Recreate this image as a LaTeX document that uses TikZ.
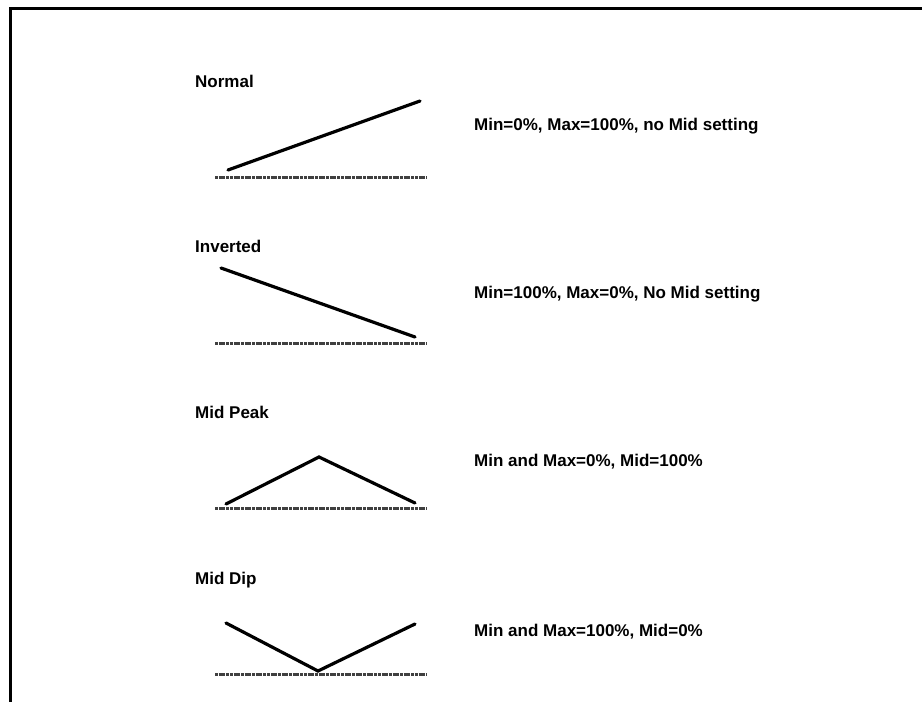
\documentclass[tikz,border=0pt]{standalone}
\usepackage{fontspec}
\setmainfont{Liberation Sans}

\tikzset{
  label/.style={anchor=base west, inner sep=0pt, font=\bfseries\fontsize{17}{20}\selectfont},
  curve/.style={line width=3.2pt, line cap=round},
  ground/.style={line width=3pt, black!75, dash pattern=on 3pt off 0.7pt}
}

\begin{document}
\begin{tikzpicture}[x=1pt,y=-1pt]
\useasboundingbox (0,0) rectangle (922,702);

% Frame
\draw[line width=3pt] (10,702) -- (10,8) -- (922,8);

% Ground lines
\def\xl{215}
\def\xr{427}
\foreach \y in {177,343,508,674}
  \draw[ground] (\xl,\y) -- (\xr,\y);

% Normal
\node[label] (normal) at (195,87) {Normal};
\node[label] (normaltxt) at (474,130) {Min=0\%, Max=100\%, no Mid setting};
\coordinate (n1) at (228,170);
\coordinate (n2) at (420,101);
\draw[curve] (n1) -- (n2);

% Inverted
\node[label] (inverted) at (195,252) {Inverted};
\node[label] (invertedtxt) at (474,298) {Min=100\%, Max=0\%, No Mid setting};
\coordinate (i1) at (221,268);
\coordinate (i2) at (415,337);
\draw[curve] (i1) -- (i2);

% Mid Peak
\node[label] (peak) at (195,418) {Mid Peak};
\node[label] (peaktxt) at (474,466) {Min and Max=0\%, Mid=100\%};
\coordinate (p1) at (226,504);
\coordinate (p2) at (319,457);
\coordinate (p3) at (415,503);
\draw[curve] (p1) -- (p2) -- (p3);

% Mid Dip
\node[label] (dip) at (195,584) {Mid Dip};
\node[label] (diptxt) at (474,636) {Min and Max=100\%, Mid=0\%};
\coordinate (d1) at (226,623);
\coordinate (d2) at (318,671);
\coordinate (d3) at (415,624);
\draw[curve] (d1) -- (d2) -- (d3);

\end{tikzpicture}
\end{document}
